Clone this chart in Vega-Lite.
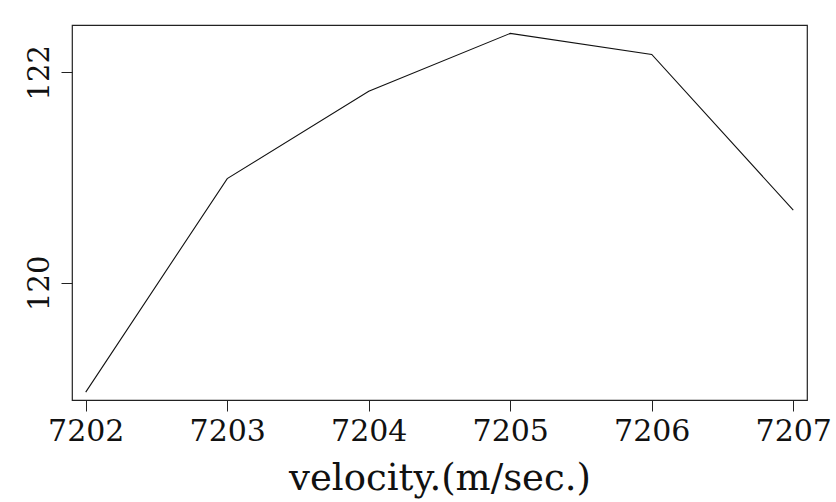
{
  "$schema": "https://vega.github.io/schema/vega-lite/v6.json",
  "width": 735,
  "height": 375,
  "autosize": {"type": "none"},
  "padding": {"left": 72, "top": 25, "right": 29, "bottom": 102},
  "background": "white",
  "config": {
    "view": {"stroke": "#222222", "strokeWidth": 1.2},
    "axis": {
      "labelFont": "DejaVu Serif",
      "titleFont": "DejaVu Serif",
      "labelColor": "#111111",
      "titleColor": "#111111",
      "tickColor": "#222222",
      "grid": false,
      "domain": false
    }
  },
  "data": {
    "values": [
      {"velocity": 7202, "value": 118.96},
      {"velocity": 7203, "value": 120.99},
      {"velocity": 7204, "value": 121.82},
      {"velocity": 7205, "value": 122.37},
      {"velocity": 7206, "value": 122.17},
      {"velocity": 7207, "value": 120.69}
    ]
  },
  "mark": {"type": "line", "color": "#111111", "strokeWidth": 1.1},
  "encoding": {
    "x": {
      "field": "velocity",
      "type": "quantitative",
      "scale": {"domain": [7201.903, 7207.097], "nice": false, "zero": false},
      "axis": {
        "values": [7202, 7203, 7204, 7205, 7206, 7207],
        "format": "d",
        "tickSize": 11,
        "labelFontSize": 30,
        "labelPadding": 5,
        "labelFlush": false,
        "labelOverlap": false,
        "title": "velocity.(m/sec.)",
        "titleFontSize": 37,
        "titleFontWeight": "normal",
        "titlePadding": 14
      }
    },
    "y": {
      "field": "value",
      "type": "quantitative",
      "scale": {"domain": [118.885, 122.45], "nice": false, "zero": false},
      "axis": {
        "values": [120, 122],
        "format": "d",
        "tickSize": 11,
        "labelFontSize": 29,
        "labelAngle": -90,
        "labelAlign": "center",
        "labelBaseline": "bottom",
        "labelPadding": 7,
        "labelFlush": false,
        "title": null
      }
    }
  }
}
